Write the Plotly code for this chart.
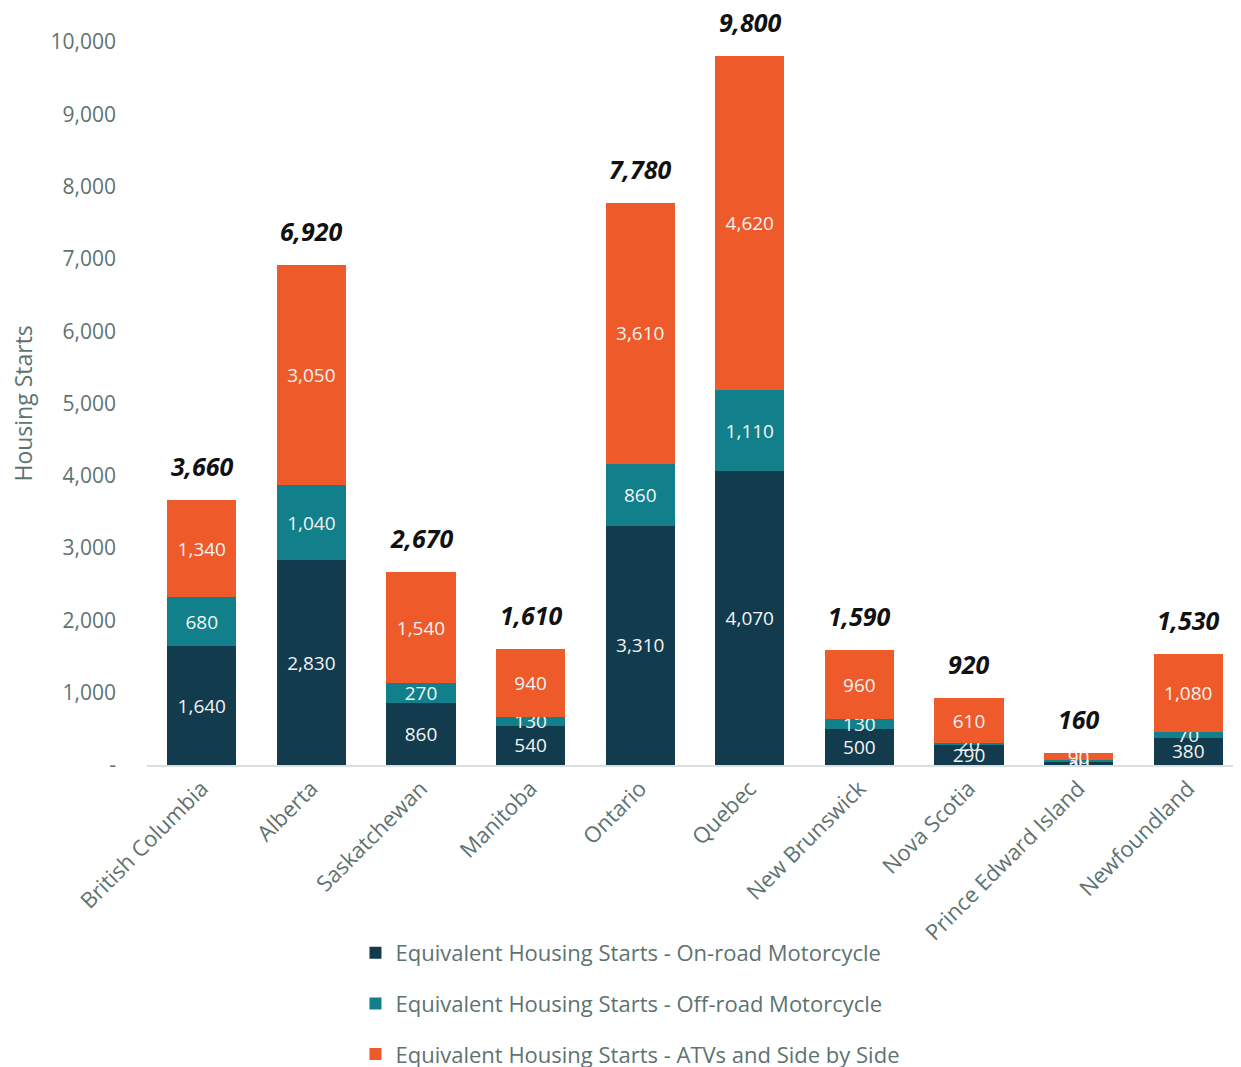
import plotly.graph_objects as go

# provinces and stacked segments (equivalent housing starts)
provinces = ["British Columbia", "Alberta", "Saskatchewan", "Manitoba", "Ontario",
             "Quebec", "New Brunswick", "Nova Scotia", "Prince Edward Island", "Newfoundland"]
on_road = [1640, 2830, 860, 540, 3310, 4070, 500, 290, 40, 380]
off_road = [680, 1040, 270, 130, 860, 1110, 130, 20, 30, 70]
atv = [1340, 3050, 1540, 940, 3610, 4620, 960, 610, 90, 1080]
totals = [3660, 6920, 2670, 1610, 7780, 9800, 1590, 920, 160, 1530]

y_ticks = [0, 1000, 2000, 3000, 4000, 5000, 6000, 7000, 8000, 9000, 10000]
y_ticktext = ["-"] + [f"{v:,}" for v in y_ticks[1:]]

names = ["Equivalent Housing Starts - On-road Motorcycle",
         "Equivalent Housing Starts - Off-road Motorcycle",
         "Equivalent Housing Starts - ATVs and Side by Side"]
colors = ["#123B4E", "#12808A", "#EE5A2A"]

FONT = "Open Sans"
GREY = "#5E7370"

fig = go.Figure()
for i, (vals, name, col) in enumerate(zip([on_road, off_road, atv], names, colors)):
    fig.add_trace(go.Bar(
        x=provinces, y=vals, name=name, marker=dict(color=col, line=dict(width=0)),
        text=[f"{v:,}" for v in vals], textposition="inside", insidetextanchor="middle",
        textangle=0, constraintext="none",
        textfont=dict(color="#F4F4F4", size=19, family=FONT), legendgroup=f"g{i}",
    ))

# totals above bars
for p, t in zip(provinces, totals):
    fig.add_annotation(x=p, y=t, text=f"<b><i>{t:,}</i></b>", showarrow=False,
                       yanchor="middle", yshift=34,
                       font=dict(color="#111111", size=25, family=FONT))

# y axis title (as annotation so it sits left of the shifted tick labels)
fig.add_annotation(xref="paper", yref="paper", x=-0.114, y=0.5, text="Housing Starts",
                   textangle=-90, showarrow=False, xanchor="center", yanchor="middle",
                   font=dict(size=23, color=GREY, family=FONT))

# page body adds ~8px offset, margins compensate for it
fig.update_layout(
    barmode="stack", bargap=0.37,
    width=1241, height=1067,
    margin=dict(l=139, r=6, t=34, b=310, autoexpand=False),
    paper_bgcolor="white", plot_bgcolor="white",
    font=dict(family=FONT, color=GREY, size=20),
    uniformtext=dict(minsize=19, mode="show"),
    legend=dict(orientation="v", xref="container", yref="container",
                x=0.28, xanchor="left", y=0.134, yanchor="top",
                font=dict(size=22, color=GREY, family=FONT), tracegroupgap=19,
                itemwidth=30),
    showlegend=True,
)
fig.update_xaxes(tickangle=-45, showline=True, linecolor="#D8DFDE", linewidth=2,
                 tickfont=dict(size=22, color=GREY), ticks="", showgrid=False,
                 automargin=False)
fig.update_yaxes(range=[0, 10000], tickvals=y_ticks, ticktext=y_ticktext,
                 showgrid=False, zeroline=False, ticks="",
                 ticklabelstandoff=30,
                 tickfont=dict(size=21, color=GREY))

fig.write_html("out.html")
